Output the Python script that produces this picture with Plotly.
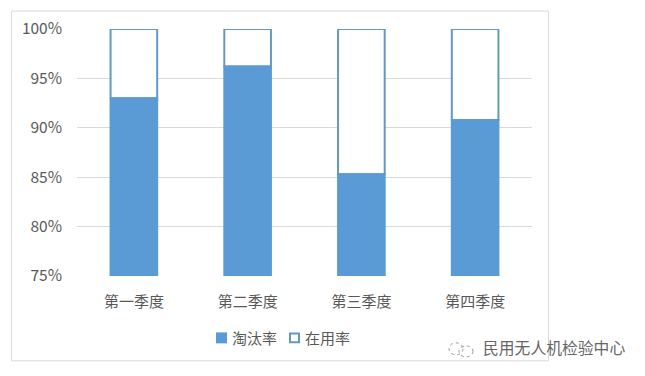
import plotly.graph_objects as go

OFFSET = 8  # default page margin of the HTML body
W, H = 645 - OFFSET, 376 - OFFSET
L, R, T, B = 77 - OFFSET, 532 - OFFSET, 28.5 - OFFSET, 276 - OFFSET

categories = ["第一季度", "第二季度", "第三季度", "第四季度"]
elimination_rate = [0.93, 0.962, 0.853, 0.908]
in_use_rate = [0.07, 0.038, 0.147, 0.092]
tick_values = [0.75, 0.80, 0.85, 0.90, 0.95, 1.00]
tick_labels = ["75%", "80%", "85%", "90%", "95%", "100%"]
series_names = ["淘汰率", "在用率"]

TEXT = "#595959"
BLUE = "#5B9BD5"
EDGE = "#6499BF"
FONT = "Noto Sans CJK SC, Liberation Sans, sans-serif"


def px(x):
    return (x - OFFSET - L) / (R - L)


def py(y):
    return (B - (y - OFFSET)) / (B - T)


def rect(x0, x1, y0, y1, **kw):
    return dict(type="rect", xref="paper", yref="paper",
                x0=px(x0), x1=px(x1), y0=py(y1), y1=py(y0), **kw)


fig = go.Figure()
fig.add_bar(name=series_names[1], x=categories, y=in_use_rate, base=elimination_rate,
            cliponaxis=False,
            marker=dict(color="#FFFFFF", line=dict(color=EDGE, width=2)))
fig.add_bar(name=series_names[0], x=categories, y=elimination_rate,
            marker=dict(color=BLUE, line=dict(color=BLUE, width=2)))

shapes = [
    rect(11.5, 548.5, 10.5, 361, line=dict(color="#D9D9D9", width=1), layer="below"),
    rect(216, 227, 332.5, 343.5, line=dict(color=BLUE, width=0), fillcolor=BLUE),
    rect(290, 299, 333.5, 342.5, line=dict(color=EDGE, width=2), fillcolor="white"),
    dict(type="circle", xref="paper", yref="paper",
         x0=px(449), x1=px(463), y0=py(355), y1=py(343),
         line=dict(color="#9A9A9A", width=1, dash="dot")),
    dict(type="circle", xref="paper", yref="paper",
         x0=px(459), x1=px(473), y0=py(357), y1=py(346),
         line=dict(color="#9A9A9A", width=1, dash="dot")),
]

annotations = [
    dict(text=series_names[0], xref="paper", yref="paper", x=px(230), y=py(338),
         xanchor="left", yanchor="middle", showarrow=False,
         font=dict(size=15, color=TEXT)),
    dict(text=series_names[1], xref="paper", yref="paper", x=px(303), y=py(338),
         xanchor="left", yanchor="middle", showarrow=False,
         font=dict(size=15, color=TEXT)),
    dict(text="民用无人机检验中心", xref="paper", yref="paper",
         x=px(481), y=py(348), xanchor="left", yanchor="middle",
         showarrow=False, font=dict(size=15.8, color="#666666")),
]

fig.update_layout(
    width=W, height=H,
    margin=dict(l=L, r=W - R, t=T, b=H - B, pad=0, autoexpand=False),
    paper_bgcolor="white", plot_bgcolor="white",
    barmode="overlay", bargap=0.59,
    font=dict(family=FONT, size=15, color=TEXT),
    showlegend=False,
    xaxis=dict(showgrid=False, showline=False, ticks="",
               tickfont=dict(size=15, color=TEXT), ticklabelstandoff=15),
    yaxis=dict(range=[0.75, 1.0], tickvals=tick_values, ticktext=tick_labels,
               showgrid=True, gridcolor="#D9D9D9", gridwidth=1, zeroline=False,
               showline=False, ticks="", tickfont=dict(size=15.5, color=TEXT),
               ticklabelstandoff=14),
    shapes=shapes,
    annotations=annotations,
)
fig.write_html("out.html")
